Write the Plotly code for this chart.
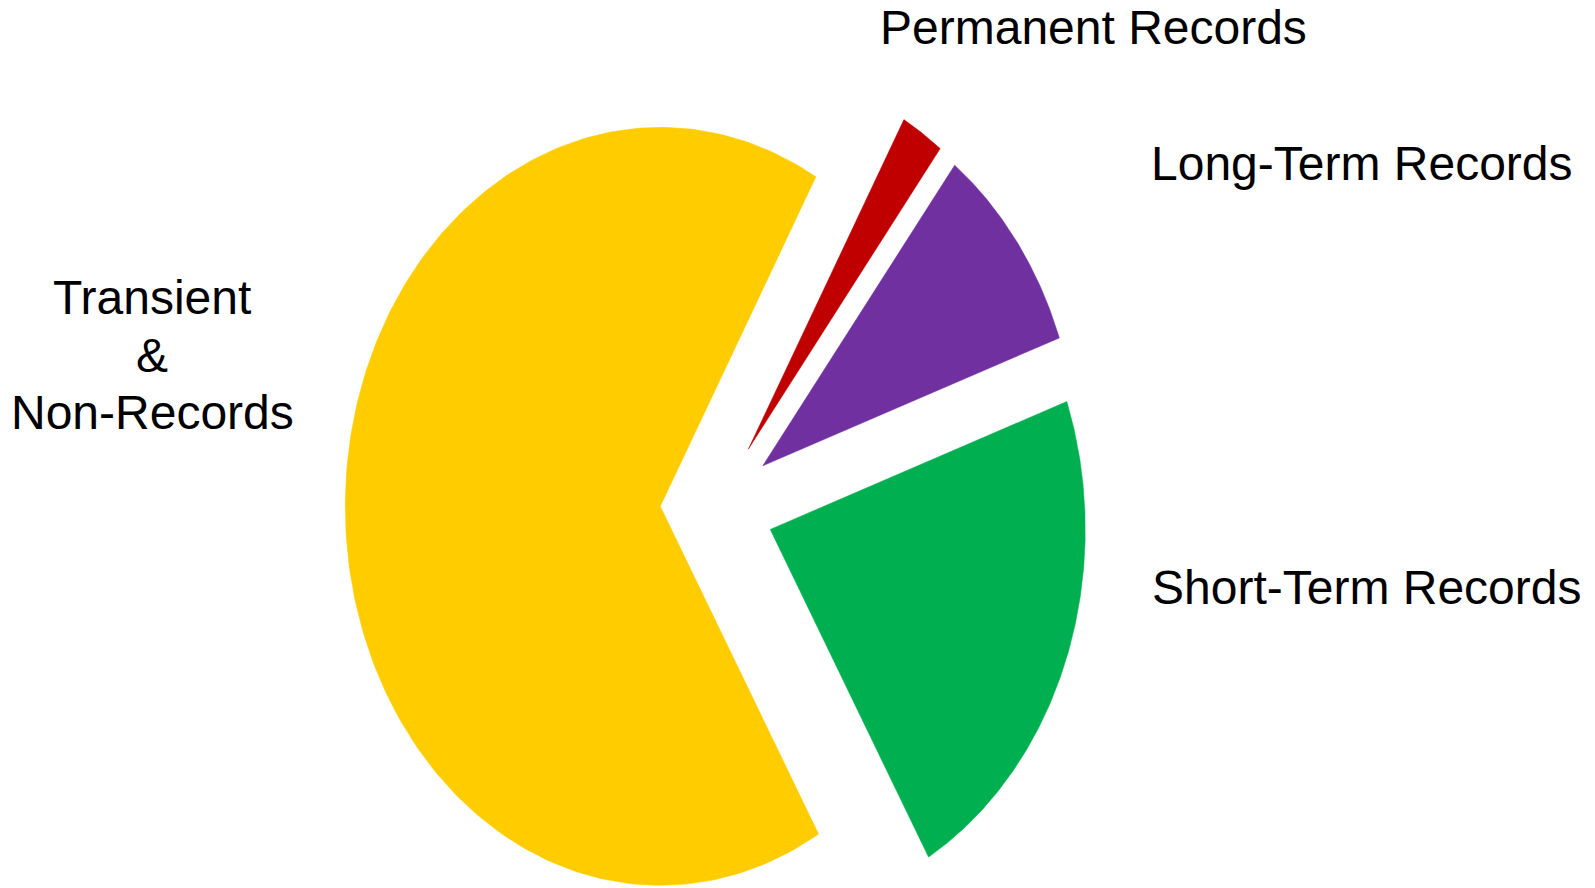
import numpy as np
import plotly.graph_objects as go

# ---- data ----
categories = ["Permanent Records", "Long-Term Records", "Short-Term Records", "Transient & Non-Records"]
values = [2.2, 9.1, 22.1, 66.6]
colors = ["#C00000", "#7030A0", "#00B050", "#FFCC00"]
label_lines = [["Permanent Records"], ["Long-Term Records"], ["Short-Term Records"],
               ["Transient", "&", "Non-Records"]]

# ---- layout constants (pixels) ----
W, H = 1595, 888
CX, CY = 717, 506          # pie centre
RX, RY = 315, 379          # elliptical radii
PULL = 0.18                # explode fraction
START_DEG = 29.6           # clockwise from 12 o'clock
label_pos = [(1093, 27), (1362, 163), (1366, 587), (152, 355)]
LINE_GAP = 57.5
FONT = dict(family="Liberation Sans, Arial, sans-serif", size=48, color="black")

fig = go.Figure()
total = float(sum(values))
a0 = START_DEG
for cat, v, col in zip(categories, values, colors):
    span = 360.0 * v / total
    a1 = a0 + span
    mid = np.radians((a0 + a1) / 2)
    ox = CX + PULL * RX * np.sin(mid)
    oy = CY - PULL * RY * np.cos(mid)
    t = np.radians(np.linspace(a0, a1, 240))
    xs = np.concatenate([[ox], ox + RX * np.sin(t), [ox]])
    ys = np.concatenate([[oy], oy - RY * np.cos(t), [oy]])
    fig.add_trace(go.Scatter(
        x=xs, y=ys, fill="toself", fillcolor=col, mode="lines",
        line=dict(width=0.5, color=col), name=cat, hoverinfo="name",
    ))
    a0 = a1

for lines, (lx, ly) in zip(label_lines, label_pos):
    n = len(lines)
    for i, line in enumerate(lines):
        fig.add_annotation(
            x=lx, y=ly + (i - (n - 1) / 2) * LINE_GAP, xref="x", yref="y",
            text=line, showarrow=False, xanchor="center", yanchor="middle",
            align="center", font=FONT,
        )

fig.update_layout(
    width=W, height=H, margin=dict(l=0, r=0, t=0, b=0),
    paper_bgcolor="white", plot_bgcolor="white", showlegend=False,
    xaxis=dict(range=[0, W], visible=False, fixedrange=True),
    yaxis=dict(range=[H, 0], visible=False, fixedrange=True),
)

fig.write_html("out.html")
